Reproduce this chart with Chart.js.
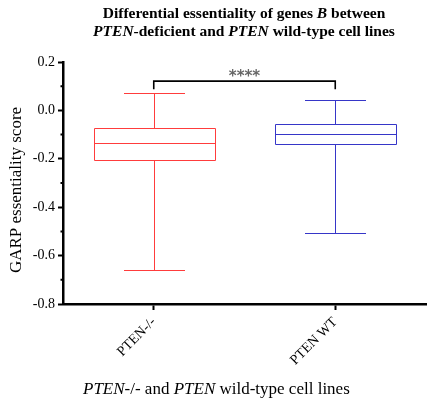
<!DOCTYPE html>
<html>
<head>
<meta charset="utf-8">
<script src="https://cdn.jsdelivr.net/npm/chart.js@4.4.0/dist/chart.umd.min.js"></script>
<style>
  body { margin: 0; background: #fff; }
  #wrap { width: 429px; height: 401px; position: relative; }
</style>
</head>
<body>
<div id="wrap"><canvas id="boxChart"></canvas></div>
<script>
// values
const groups = ["PTEN-/-", "PTEN WT"];
const whiskerLow = [-0.658, -0.505];
const quartile1 = [-0.203, -0.138];
const medians = [-0.133, -0.097];
const quartile3 = [-0.072, -0.055];
const whiskerHigh = [0.070, 0.041];
const yTicks = [-0.8, -0.6, -0.4, -0.2, 0.0, 0.2];
const yMinorTicks = [-0.7, -0.5, -0.3, -0.1, 0.1];
const sigLabel = "****";
const sigLevels = [0.121, 0.087]; // bracket top, bracket feet
const boxColors = ["#ff3c3c", "#3636c8"];

const serif = "'Liberation Serif', 'Times New Roman', serif";

// draws a line of text made of several font runs
function richText(ctx, parts, x, y, align) {
  let total = 0;
  parts.forEach(p => { ctx.font = p.font; total += ctx.measureText(p.text).width; });
  let cx = align === "center" ? x - total / 2 : x;
  ctx.textAlign = "left";
  ctx.textBaseline = "middle";
  parts.forEach(p => {
    ctx.font = p.font;
    ctx.fillText(p.text, cx, y);
    cx += ctx.measureText(p.text).width;
  });
}

const boxPlot = {
  id: "boxPlot",
  afterDatasetsDraw(chart) {
    const { ctx, scales: { x, y } } = chart;
    const slot = x.getPixelForValue(1) - x.getPixelForValue(0);
    const boxW = slot * 0.667;
    const capW = boxW / 2;
    const py = v => Math.round(y.getPixelForValue(v)) + 0.5;

    groups.forEach((g, i) => {
      const cx = Math.round(x.getPixelForValue(i)) + 0.5;
      const l = Math.round(cx - boxW / 2) + 0.5;
      const r = Math.round(cx + boxW / 2) + 0.5;
      ctx.save();
      ctx.strokeStyle = boxColors[i];
      ctx.lineWidth = 1;
      ctx.beginPath();
      // box
      ctx.rect(l, py(quartile3[i]), r - l, py(quartile1[i]) - py(quartile3[i]));
      // median
      ctx.moveTo(l, py(medians[i]));
      ctx.lineTo(r, py(medians[i]));
      // whiskers
      ctx.moveTo(cx, py(quartile3[i]));
      ctx.lineTo(cx, py(whiskerHigh[i]));
      ctx.moveTo(cx, py(quartile1[i]));
      ctx.lineTo(cx, py(whiskerLow[i]));
      // caps
      ctx.moveTo(Math.round(cx - capW / 2), py(whiskerHigh[i]));
      ctx.lineTo(Math.round(cx + capW / 2), py(whiskerHigh[i]));
      ctx.moveTo(Math.round(cx - capW / 2), py(whiskerLow[i]));
      ctx.lineTo(Math.round(cx + capW / 2), py(whiskerLow[i]));
      ctx.stroke();
      ctx.restore();
    });

    // significance bracket
    const x0 = x.getPixelForValue(0), x1 = x.getPixelForValue(1);
    ctx.save();
    ctx.strokeStyle = "#000";
    ctx.lineWidth = 1.6;
    ctx.beginPath();
    ctx.moveTo(x0, y.getPixelForValue(sigLevels[1]));
    ctx.lineTo(x0, y.getPixelForValue(sigLevels[0]));
    ctx.lineTo(x1, y.getPixelForValue(sigLevels[0]));
    ctx.lineTo(x1, y.getPixelForValue(sigLevels[1]));
    ctx.stroke();
    ctx.fillStyle = "#666";
    ctx.font = "bold 15px 'DejaVu Sans', sans-serif";
    ctx.textAlign = "center";
    ctx.textBaseline = "middle";
    ctx.fillText(sigLabel, (x0 + x1) / 2, y.getPixelForValue(sigLevels[0]) - 4);
    ctx.restore();

    // minor ticks on the y axis
    ctx.save();
    ctx.strokeStyle = "#000";
    ctx.lineWidth = 2;
    ctx.beginPath();
    yMinorTicks.forEach(v => {
      const p = y.getPixelForValue(v);
      ctx.moveTo(y.right - 2.5, p);
      ctx.lineTo(y.right, p);
    });
    ctx.stroke();
    ctx.restore();
  },
  afterDraw(chart) {
    const { ctx } = chart;
    ctx.save();
    ctx.fillStyle = "#000";
    const b = "bold 15.5px " + serif;
    const bi = "italic bold 15.5px " + serif;
    richText(ctx, [
      { text: "Differential essentiality of genes ", font: b },
      { text: "B", font: bi },
      { text: " between", font: b }
    ], 244, 14, "center");
    richText(ctx, [
      { text: "PTEN", font: bi },
      { text: "-deficient and ", font: b },
      { text: "PTEN", font: bi },
      { text: " wild-type cell lines", font: b }
    ], 244, 32, "center");

    const n = "17px " + serif;
    const it = "italic 17px " + serif;
    richText(ctx, [
      { text: "PTEN", font: it },
      { text: "-/- and ", font: n },
      { text: "PTEN", font: it },
      { text: " wild-type cell lines", font: n }
    ], 83, 390, "left");

    ctx.translate(17, 190);
    ctx.rotate(-Math.PI / 2);
    ctx.font = "17px " + serif;
    ctx.textAlign = "center";
    ctx.textBaseline = "middle";
    ctx.fillText("GARP essentiality score", 0, 0);
    ctx.restore();
  }
};

new Chart(document.getElementById("boxChart"), {
  type: "bar",
  data: {
    labels: groups,
    datasets: [{
      data: groups.map((g, i) => [quartile1[i], quartile3[i]]),
      backgroundColor: "rgba(0,0,0,0)",
      borderWidth: 0
    }]
  },
  options: {
    responsive: true,
    maintainAspectRatio: false,
    animation: false,
    layout: { padding: { top: 62, right: 3, left: 0, bottom: 0 } },
    plugins: { legend: { display: false }, tooltip: { enabled: false }, title: { display: false } },
    scales: {
      x: {
        offset: true,
        afterFit: s => { s.height = 97; },
        grid: { offset: false, drawOnChartArea: false, tickLength: 6, tickWidth: 2, tickColor: "#000" },
        border: { color: "#000", width: 2.5 },
        ticks: { color: "#000", font: { family: serif, size: 14 }, minRotation: 45, maxRotation: 45, padding: 4 }
      },
      y: {
        min: -0.8,
        max: 0.2,
        afterFit: s => { s.width = 63; },
        afterBuildTicks: s => { s.ticks = yTicks.map(v => ({ value: v })); },
        grid: { drawOnChartArea: false, tickLength: 5, tickWidth: 2, tickColor: "#000" },
        border: { color: "#000", width: 2.5 },
        ticks: { color: "#000", font: { family: serif, size: 14 }, padding: 3, callback: v => v.toFixed(1) }
      }
    }
  },
  plugins: [boxPlot]
});
</script>
</body>
</html>
